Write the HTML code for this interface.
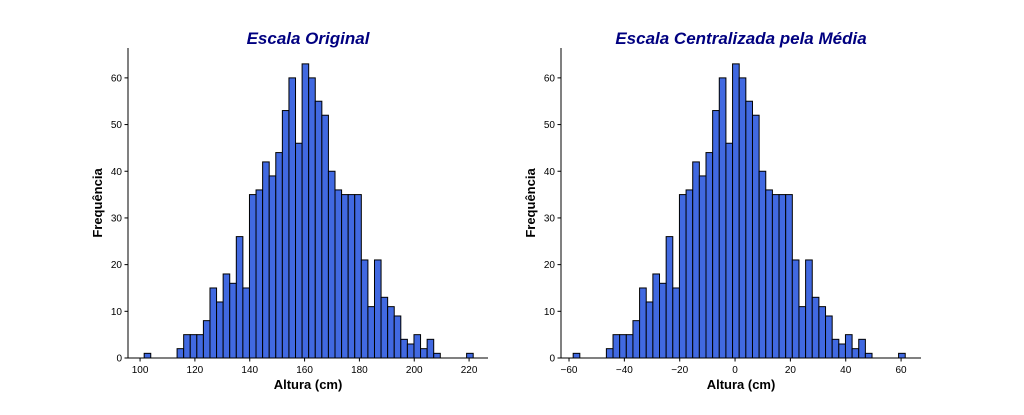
<!DOCTYPE html>
<html><head><meta charset="utf-8"><style>
body{margin:0;background:#fff;width:1024px;height:410px;overflow:hidden;font-family:"Liberation Sans",sans-serif}
</style></head><body>
<svg id="fig" width="1024" height="410"></svg>
<script>
const counts=[1,0,0,0,0,2,5,5,5,8,15,12,18,16,26,15,35,36,42,39,44,53,60,46,63,60,55,52,40,36,35,35,35,21,11,21,13,11,9,4,3,5,2,4,1,0,0,0,0,1];
const binStartOriginal=101.5;
const binWidth=2.4;
const meanValue=160;
const yTicks=[0,10,20,30,40,50,60];
const xTicksLeft=[100,120,140,160,180,200,220];
const xTicksRight=[-60,-40,-20,0,20,40,60];
const NS="http://www.w3.org/2000/svg";
const svg=document.getElementById('fig');
function el(t,a,p){const e=document.createElementNS(NS,t);for(const k in a)e.setAttribute(k,a[k]);(p||svg).appendChild(e);return e;}
function panel(name,left,right,dmin,dmax,start,xt,title){
  const top=48,bot=358,ymax=66.4;
  const g=el('g',{});
  
  
  const xs=v=>left+(v-dmin)/(dmax-dmin)*(right-left);
  const ys=v=>bot-v/ymax*(bot-top);
  counts.forEach((c,i)=>{if(c<=0)return;
    const x0=xs(start+i*binWidth),x1=xs(start+(i+1)*binWidth);
    const r=el('rect',{x:x0,y:ys(c),width:x1-x0,height:bot-ys(c),fill:'#4169e1',stroke:'#000','stroke-width':1},g);
    
    
  });
  const ya=el('line',{x1:left,y1:top,x2:left,y2:bot,stroke:'#000','stroke-width':1},g);
  
  
  const xa=el('line',{x1:left,y1:bot,x2:right,y2:bot,stroke:'#000','stroke-width':1},g);
  
  
  yTicks.forEach(v=>{const y=ys(v);
    el('line',{x1:left-3.5,y1:y,x2:left,y2:y,stroke:'#000'},g);
    const t=el('text',{x:left-6,y:y+3.5,'text-anchor':'end','font-size':'10'},g);t.textContent=v;
    
    
  });
  xt.forEach(v=>{const x=xs(v);
    el('line',{x1:x,y1:bot,x2:x,y2:bot+3.5,stroke:'#000'},g);
    const t=el('text',{x:x,y:bot+15,'text-anchor':'middle','font-size':'10'},g);t.textContent=v<0?'\u2212'+(-v):v;
    
    
  });
  const tt=el('text',{x:(left+right)/2,y:44,'text-anchor':'middle','font-size':'17','font-weight':'bold','font-style':'italic',fill:'#000080'},g);tt.textContent=title;
  
  
  const xl=el('text',{x:(left+right)/2,y:389,'text-anchor':'middle','font-size':'13','font-weight':'bold'},g);xl.textContent='Altura (cm)';
  
  
  const yl=el('text',{x:0,y:0,'text-anchor':'middle','font-size':'13','font-weight':'bold',transform:`translate(${left-26},${(top+bot)/2}) rotate(-90)`},g);yl.textContent='Frequência';
  
  
}
panel('histogram-original',128,488,95.6,226.9,binStartOriginal,xTicksLeft,'Escala Original');
panel('histogram-centered',561,921,-62.9,67.2,binStartOriginal-meanValue,xTicksRight,'Escala Centralizada pela Média');
</script>
</body></html>
